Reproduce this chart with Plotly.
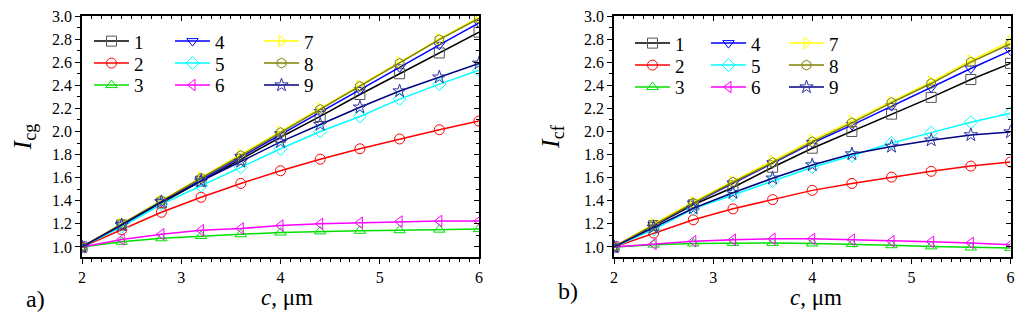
import plotly.graph_objects as go

c = [2.0, 2.4, 2.8, 3.2, 3.6, 4.0, 4.4, 4.8, 5.2, 5.6, 6.0]
names = ["1", "2", "3", "4", "5", "6", "7", "8", "9"]

# Panel a) I_cg
icg = {
    "1": [1.0, 1.19, 1.38, 1.57, 1.76, 1.95, 2.13, 2.32, 2.50, 2.68, 2.86],
    "2": [1.0, 1.15, 1.30, 1.43, 1.55, 1.66, 1.76, 1.85, 1.935, 2.015, 2.09],
    "3": [1.0, 1.045, 1.075, 1.095, 1.11, 1.125, 1.135, 1.14, 1.145, 1.15, 1.155],
    "4": [1.0, 1.195, 1.39, 1.585, 1.78, 1.975, 2.17, 2.36, 2.555, 2.75, 2.94],
    "5": [1.0, 1.175, 1.37, 1.53, 1.69, 1.85, 2.0, 2.13, 2.28, 2.41, 2.53],
    "6": [1.0, 1.065, 1.11, 1.145, 1.16, 1.185, 1.20, 1.21, 1.22, 1.225, 1.225],
    "7": [1.0, 1.2, 1.4, 1.6, 1.8, 2.0, 2.2, 2.4, 2.6, 2.8, 2.99],
    "8": [1.0, 1.2, 1.4, 1.595, 1.79, 1.99, 2.19, 2.39, 2.59, 2.795, 2.98],
    "9": [1.0, 1.19, 1.39, 1.57, 1.74, 1.91, 2.06, 2.21, 2.35, 2.47, 2.59],
}

# Panel b) I_cf
icf = {
    "1": [1.0, 1.185, 1.365, 1.515, 1.69, 1.855, 2.0, 2.15, 2.295, 2.45, 2.59],
    "2": [1.0, 1.12, 1.235, 1.33, 1.41, 1.49, 1.55, 1.605, 1.655, 1.70, 1.735],
    "3": [1.0, 1.02, 1.03, 1.035, 1.035, 1.03, 1.025, 1.015, 1.005, 0.995, 0.99],
    "4": [1.0, 1.19, 1.375, 1.55, 1.725, 1.90, 2.055, 2.22, 2.38, 2.545, 2.70],
    "5": [1.0, 1.15, 1.33, 1.45, 1.57, 1.69, 1.79, 1.90, 1.99, 2.08, 2.157],
    "6": [1.0, 1.025, 1.05, 1.063, 1.07, 1.07, 1.063, 1.05, 1.045, 1.035, 1.02],
    "7": [1.0, 1.2, 1.39, 1.57, 1.745, 1.925, 2.09, 2.26, 2.43, 2.615, 2.78],
    "8": [1.0, 1.19, 1.38, 1.56, 1.73, 1.91, 2.075, 2.25, 2.415, 2.60, 2.76],
    "9": [1.0, 1.17, 1.335, 1.47, 1.595, 1.71, 1.805, 1.87, 1.925, 1.97, 1.995],
}

x_title = "<i>c</i>, μm"
y_titles = ["<i>I</i><sub>cg</sub>", "<i>I</i><sub>cf</sub>"]
panel_labels = ["a)", "b)"]

line_colors = {"1": "#000000", "2": "#FF0000", "3": "#00E000", "4": "#0000FF", "5": "#00FFFF",
               "6": "#FF00FF", "7": "#FFFF00", "8": "#808000", "9": "#000080"}
marker_colors = {"1": "#555555", "2": "#FF0000", "3": "#00E000", "4": "#0000FF", "5": "#00FFFF",
                 "6": "#FF00FF", "7": "#FFFF00", "8": "#808000", "9": "#3030A0"}
symbols = {"1": "square-open", "2": "circle-open", "3": "triangle-up-open", "4": "triangle-down-open",
           "5": "diamond-open", "6": "triangle-left-open", "7": "triangle-right-open",
           "8": "hexagon-open", "9": "star-open"}

FONT = "Liberation Serif, Times New Roman, serif"
OFF = 8  # page body margin in the browser
W, H = 1024 - OFF, 320 - OFF
PLOT_TOP, PLOT_BOT = 15.7, 257  # in screenshot pixels
MT = PLOT_TOP - OFF
MB = H - (PLOT_BOT - OFF)
PH = H - MT - MB

def px_x(sx):  # screenshot x -> paper x
    return (sx - OFF) / W

def px_y(sy):  # screenshot y -> paper y
    return (PLOT_BOT - sy) / PH

fig = go.Figure()

# legend layout: 3 columns x 3 rows inside each panel (marker centre / row centre, screenshot px)
leg_cols = [[112, 193, 282], [653, 729, 807]]
leg_rows = [[41, 63, 85], [43, 65, 87]]
legends = {}

for panel, (data, xa, ya) in enumerate([(icg, "x", "y"), (icf, "x2", "y2")]):
    for k, n in enumerate(names):
        idx = panel * 9 + k + 1
        key = "legend" if idx == 1 else f"legend{idx}"
        col, row = k // 3, k % 3
        legends[key] = dict(x=px_x(leg_cols[panel][col] - 23), xanchor="left",
                            y=px_y(leg_rows[panel][row]), yanchor="middle",
                            bgcolor="rgba(0,0,0,0)", font=dict(family=FONT, size=19, color="black"),
                            itemwidth=35, borderwidth=0)
        fig.add_trace(go.Scatter(
            x=c, y=data[n], mode="lines+markers", name=n,
            xaxis=xa, yaxis=ya,
            line=dict(color=line_colors[n], width=1.5),
            marker=dict(symbol=symbols[n], size=10, color=marker_colors[n],
                        line=dict(width=1, color=marker_colors[n])),
            legend=key,
        ))

# empty helper traces so the top/right tick axes (inward ticks) get drawn
for xa, ya in [("x3", "y3"), ("x4", "y4")]:
    fig.add_trace(go.Scatter(x=[], y=[], xaxis=xa, yaxis=ya, showlegend=False, hoverinfo="skip"))

tickfont = dict(family=FONT, size=16, color="black")
doms = [[px_x(82), px_x(479)], [px_x(614), px_x(1010.5)]]
yr = [0.913, 3.0]

def xax(dom, anchor):
    return dict(domain=dom, anchor=anchor, range=[2, 6], dtick=1, ticks="outside", ticklen=5,
                tickwidth=1, tickcolor="black", showline=True, linecolor="black", linewidth=1.5,
                mirror=True, automargin=False, ticklabeloverflow="allow",
                showgrid=False, zeroline=False, tickfont=tickfont,
                minor=dict(dtick=0.1, ticks="outside", ticklen=3, tickcolor="black", showgrid=False))

def yax(anchor, title):
    return dict(domain=[0, 1], anchor=anchor, range=yr, dtick=0.2, tickformat=".1f", ticks="outside",
                ticklen=5, tickwidth=1, tickcolor="black", showline=True, linecolor="black", linewidth=1.5,
                mirror=True, automargin=False, ticklabeloverflow="allow",
                showgrid=False, zeroline=False, tickfont=tickfont,
                minor=dict(dtick=0.1, ticks="outside", ticklen=3, tickcolor="black", showgrid=False),
                title=dict(text=title, font=dict(family=FONT, size=26, color="black"), standoff=17))

def xtop(ov, anchor, dom):
    return dict(overlaying=ov, side="top", anchor=anchor, domain=dom, range=[2, 6], dtick=1, ticks="inside",
                ticklen=5, tickcolor="black", showticklabels=False, showline=True, linecolor="black",
                linewidth=1.5, showgrid=False, zeroline=False, automargin=False,
                minor=dict(dtick=0.1, ticks="inside", ticklen=3, tickcolor="black", showgrid=False))

def yright(ov, anchor):
    return dict(overlaying=ov, side="right", anchor=anchor, range=yr, dtick=0.2, ticks="inside", ticklen=5,
                tickcolor="black", showticklabels=False, showline=True, linecolor="black", linewidth=1.5,
                showgrid=False, zeroline=False, automargin=False,
                minor=dict(dtick=0.1, ticks="inside", ticklen=3, tickcolor="black", showgrid=False))

annotations = []
for cx in [287, 816]:
    annotations.append(dict(text=x_title, x=px_x(cx), y=px_y(298), xref="paper", yref="paper", showarrow=False,
                            font=dict(family=FONT, size=23, color="black"), xanchor="center", yanchor="middle"))
for lab, lx, ly in [(panel_labels[0], 24, 299), (panel_labels[1], 556, 291)]:
    annotations.append(dict(text=lab, x=px_x(lx), y=px_y(ly), xref="paper", yref="paper", showarrow=False,
                            font=dict(family=FONT, size=24, color="black"), xanchor="left", yanchor="middle"))

fig.update_layout(
    width=W, height=H,
    margin=dict(l=0, r=0, t=MT, b=MB, autoexpand=False),
    paper_bgcolor="white", plot_bgcolor="white",
    font=dict(family=FONT, color="black"),
    showlegend=True,
    xaxis=xax(doms[0], "y"), yaxis=yax("x", y_titles[0]),
    xaxis2=xax(doms[1], "y2"), yaxis2=yax("x2", y_titles[1]),
    xaxis3=xtop("x", "y3", doms[0]), yaxis3=yright("y", "x3"),
    xaxis4=xtop("x2", "y4", doms[1]), yaxis4=yright("y2", "x4"),
    annotations=annotations,
    **legends,
)

fig.write_html("out.html")
